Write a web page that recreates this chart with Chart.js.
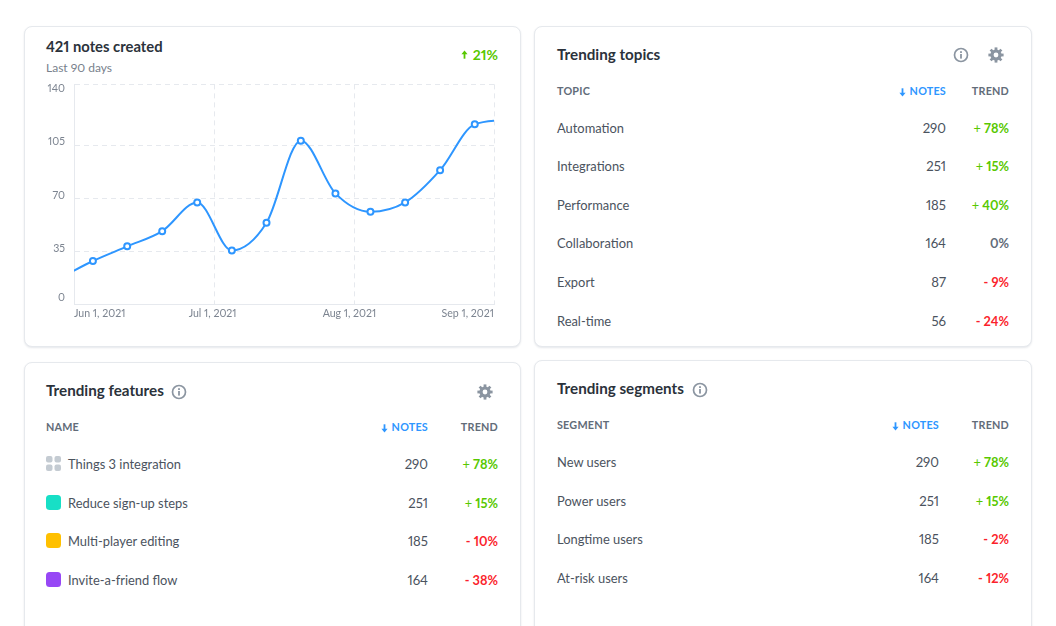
<!DOCTYPE html>
<html><head><meta charset="utf-8">
<script src="https://cdn.jsdelivr.net/npm/chart.js@4"></script>
<style>
html,body{margin:0;padding:0;width:1056px;height:626px;overflow:hidden;background:#fff;font-family:Lato,"Open Sans",sans-serif;color:#2f3640;font-feature-settings:"pnum"}
.card{position:absolute;box-sizing:border-box;background:#fff;border:1px solid #e6e9ed;border-radius:8px;box-shadow:0 1px 2px rgba(40,60,90,.12)}
.t{position:absolute;white-space:nowrap;line-height:16px;height:16px}
.title{font-size:15.2px;font-weight:700;color:#2b323b}
.hdr{font-size:10.8px;font-weight:700;color:#626c79;letter-spacing:.2px}
.blue{color:#2e96ff}
.row{font-size:12.9px;color:#4b535e}
.num{font-size:13.2px;color:#4b535e;text-align:right}
.tr{font-size:12.8px;font-weight:700;text-align:right}
.tr i{font-style:normal;font-weight:400}
.up{color:#58c800}.down{color:#fb1f2d}.flat{color:#626c79}
svg{position:absolute}
#wrap{position:absolute;left:40px;top:69px;width:470px;height:261px}
</style></head><body>
<div class="card" style="left:24px;top:26px;width:497px;height:321px"></div>
<div class="card" style="left:534px;top:26px;width:498px;height:321px"></div>
<div class="card" style="left:24px;top:362px;width:497px;height:340px"></div>
<div class="card" style="left:534px;top:360px;width:498px;height:340px"></div>
<div class="t title" style="left:46px;top:38px;font-size:14.8px">421 notes created</div>
<div class="t" style="left:46px;top:60px;font-size:12px;color:#78818c">Last 90 days</div>
<div class="t up" style="right:558px;top:47px;font-size:14px;font-weight:700">21%</div>
<div id="wrap"><canvas id="c" width="470" height="261"></canvas></div>
<div id="tables"></div>
<script>
const weekPositions=[-0.46,0.54,1.52,2.52,3.52,4.51,5.5,6.48,7.47,8.47,9.46,10.46,11.45,12.5];
const notesCreated=[16.5,28.5,38.2,48.3,67.3,35.5,53.8,108.3,73.3,61.1,67.3,88.7,119.1,122];
const gridValues=[0,35,70,105,145.6];
const yTickValues=[2.56,35,70,105,140];
const yTickLabels=["0","35","70","105","140"];
const xGridWeeks=[0,4,8,12];
const xTickWeeks=[0,3.96,7.87,12];
const xTickLabels=["Jun 1, 2021","Jul 1, 2021","Aug 1, 2021","Sep 1, 2021"];

const topicNames=["Automation","Integrations","Performance","Collaboration","Export","Real-time"];
const topicNotes=[290,251,185,164,87,56];
const topicTrend=["+ 78%","+ 15%","+ 40%","0%","- 9%","- 24%"];
const featureNames=["Things 3 integration","Reduce sign-up steps","Multi-player editing","Invite-a-friend flow"];
const featureNotes=[290,251,185,164];
const featureTrend=["+ 78%","+ 15%","- 10%","- 38%"];
const segmentNames=["New users","Power users","Longtime users","At-risk users"];
const segmentNotes=[290,251,185,164];
const segmentTrend=["+ 78%","+ 15%","- 2%","- 12%"];

const host=document.getElementById('tables');
const info=(x,y)=>`<svg style="left:${x}px;top:${y}px" width="16" height="16" viewBox="0 0 16 16"><circle cx="8" cy="8" r="6.5" fill="none" stroke="#8b95a1" stroke-width="1.7"/><rect x="7.1" y="7" width="1.8" height="4.6" fill="#8b95a1"/><rect x="7.1" y="4.2" width="1.8" height="1.8" fill="#8b95a1"/></svg>`;
const gear=(x,y)=>`<svg style="left:${x}px;top:${y}px" width="16" height="16" viewBox="0 0 16 16"><g fill="#8b95a1"><circle cx="8" cy="8" r="5.6"/>${[0,45,90,135].map(a=>`<rect x="6.6" y="0.4" width="2.8" height="15.2" transform="rotate(${a} 8 8)"/>`).join('')}</g><circle cx="8" cy="8" r="2.4" fill="#fff"/></svg>`;
const arrow=(x,y,color,down)=>`<svg style="left:${x}px;top:${y}px" width="7" height="9" viewBox="0 0 7 9"><g transform="${down?'rotate(180 3.5 4.5)':''}" fill="${color}"><path d="M3.5 0.5L6.6 4.2H0.4Z"/><rect x="2.6" y="3.5" width="1.8" height="5.2"/></g></svg>`;
function text(cls,style,html){host.insertAdjacentHTML('beforeend',`<div class="t ${cls}" style="${style}">${html}</div>`)}
function trendHtml(s){
  if(s[0]==='+')return `<span class="up"><i>+</i> ${s.slice(2)}</span>`;
  if(s[0]==='-')return `<span class="down">${s}</span>`;
  return `<span class="flat">${s}</span>`;
}
function table(o){
  text('title',`left:${o.x}px;top:${o.titleY-8}px`,o.title);
  text('hdr',`left:${o.x}px;top:${o.headY-8}px`,o.head);
  text('hdr blue',`right:${1056-o.numR}px;top:${o.headY-8}px`,'NOTES');
  text('hdr',`right:${1056-o.trR}px;top:${o.headY-8}px`,'TREND');
  host.insertAdjacentHTML('beforeend',arrow(o.numR-47,o.headY-3,'#2e96ff',true));
  o.names.forEach((n,i)=>{
    const y=o.rowY+i*38.6-8;
    text('row',`left:${o.x+(o.nameIndent||0)}px;top:${y}px`,n);
    text('num',`right:${1056-o.numR}px;top:${y}px`,o.notes[i]);
    text('tr',`right:${1056-o.trR}px;top:${y}px`,trendHtml(o.trend[i]));
  });
}
table({x:557,titleY:54,headY:91,rowY:127.5,numR:946,trR:1009,title:'Trending topics',head:'TOPIC',names:topicNames,notes:topicNotes,trend:topicTrend});
table({x:46,titleY:390,headY:427,rowY:464,numR:428,trR:498,title:'Trending features',head:'NAME',names:featureNames,notes:featureNotes,trend:featureTrend,nameIndent:22});
table({x:557,titleY:388,headY:425,rowY:462,numR:939,trR:1009,title:'Trending segments',head:'SEGMENT',names:segmentNames,notes:segmentNotes,trend:segmentTrend});
host.insertAdjacentHTML('beforeend',arrow(461,50,'#58c800',false)+info(953,47)+gear(988,47)+info(171,384)+gear(477,384)+info(692,382));
host.insertAdjacentHTML('beforeend',`<svg style="left:46px;top:456px" width="15" height="15"><g fill="#c4cbd2"><rect width="6.5" height="6.5" rx="2"/><rect x="8.5" width="6.5" height="6.5" rx="2"/><rect y="8.5" width="6.5" height="6.5" rx="2"/><rect x="8.5" y="8.5" width="6.5" height="6.5" rx="2"/></g></svg>`);
[['#17dfc6',495],['#ffc000',533],['#9747f5',572]].forEach(([c,y])=>host.insertAdjacentHTML('beforeend',`<div style="position:absolute;left:46px;top:${y}px;width:15px;height:15px;border-radius:3.5px;background:${c}"></div>`));

const gridColor='#e6e9ee';
const labelColor='#7c8490';
const font={family:'Lato',size:10.6};
new Chart(document.getElementById('c'),{
  type:'line',
  data:{datasets:[{
    data:weekPositions.map((x,i)=>({x,y:notesCreated[i]})),
    borderColor:'#2e96ff',borderWidth:2,cubicInterpolationMode:'monotone',
    pointRadius:3,pointBorderWidth:2,pointBackgroundColor:'#fff',pointBorderColor:'#2e96ff',
    xAxisID:'x',yAxisID:'y',clip:true
  }]},
  options:{
    responsive:false,animation:false,
    layout:{padding:{top:0,right:16,left:0,bottom:0}},
    plugins:{legend:{display:false},tooltip:{enabled:false}},
    scales:{
      x:{type:'linear',position:'bottom',min:0,max:12,
        afterBuildTicks:s=>{s.ticks=xGridWeeks.map(value=>({value}))},
        ticks:{display:false},
        grid:{color:gridColor,drawTicks:false},
        border:{display:true,color:gridColor,dash:[5,4]},
        afterFit:s=>{s.height=0}},
      xLabels:{type:'linear',position:'bottom',min:0,max:12,
        afterBuildTicks:s=>{s.ticks=xTickWeeks.map(value=>({value}))},
        ticks:{autoSkip:false,maxRotation:0,align:'inner',padding:3,color:labelColor,font,
          callback:(v,i)=>xTickLabels[i]},
        grid:{display:false,drawTicks:false},border:{display:false},
        afterFit:s=>{s.height=26}},
      y:{type:'linear',position:'left',min:0,max:145.6,
        afterBuildTicks:s=>{s.ticks=gridValues.map(value=>({value}))},
        ticks:{display:false},
        grid:{color:gridColor,drawTicks:false},
        border:{display:true,color:gridColor,dash:[5,4]},
        afterFit:s=>{s.width=0}},
      yLabels:{type:'linear',position:'left',min:-1.57,max:142.8,
        afterBuildTicks:s=>{s.ticks=yTickValues.map(value=>({value}))},
        ticks:{autoSkip:false,padding:9,color:labelColor,font,
          callback:(v,i)=>yTickLabels[i]},
        grid:{display:false,drawTicks:false},border:{display:false},
        afterFit:s=>{s.width=34}}
    }
  },
  plugins:[{id:'solidAxes',beforeDatasetsDraw(ch){
    const {ctx,chartArea:a}=ch;ctx.save();ctx.strokeStyle=gridColor;ctx.lineWidth=1;ctx.setLineDash([]);
    ctx.beginPath();ctx.moveTo(a.left+.5,a.top);ctx.lineTo(a.left+.5,a.bottom+.5);ctx.lineTo(a.right,a.bottom+.5);ctx.stroke();ctx.restore();
  }}]
});
</script>
</body></html>
